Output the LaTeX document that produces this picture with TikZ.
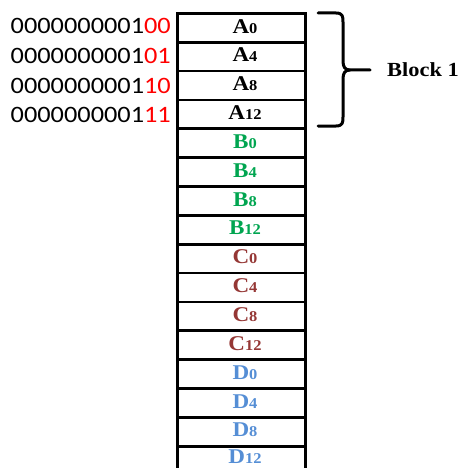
\documentclass[tikz,border=0pt]{standalone}
\usepackage{fontspec}
\setmainfont{Liberation Serif}
\newfontfamily\binfont{Carlito}
\definecolor{cA}{HTML}{000000}
\definecolor{cB}{HTML}{00A550}
\definecolor{cC}{HTML}{953735}
\definecolor{cD}{HTML}{558ED5}
\definecolor{bitred}{HTML}{FF0000}
\newcommand{\cellname}[2]{{\fontsize{21}{21}\selectfont\bfseries #1}{\fontsize{15}{15}\selectfont\bfseries #2}}
\begin{document}
\begin{tikzpicture}[x=1pt,y=-1pt,
  cellbox/.style={draw=black,line width=2.8pt,minimum width=128pt,minimum height=28.85pt,inner sep=0pt,anchor=north west},
  celltext/.style={anchor=center,inner sep=0pt,xscale=1.1,transform shape},
  bintext/.style={anchor=east,inner sep=0pt,font=\binfont\fontsize{23.5}{23.5}\selectfont,xscale=1.12,transform shape},
  bracestyle/.style={line width=3pt,line cap=round,line join=round}]
\useasboundingbox (0,0) rectangle (465,468);
% cells
\foreach \i/\l/\d/\c/\dy in {0/A/0/cA/14.2,1/A/4/cA/14.2,2/A/8/cA/14.2,3/A/12/cA/14.2,4/B/0/cB/14.2,5/B/4/cB/14.2,6/B/8/cB/14.2,7/B/12/cB/14.2,8/C/0/cC/14.2,9/C/4/cC/14.2,10/C/8/cC/14.2,11/C/12/cC/14.2,12/D/0/cD/14.2,13/D/4/cD/14.2,14/D/8/cD/14.2,15/D/12/cD/12.2}{
  \node[cellbox] (cell\i) at (176,{12+28.85*\i}) {};
  \node[celltext,text=\c] (lab\i) at ({245},{12+28.85*\i+\dy}) {\cellname{\l}{\d}};
}
% binary addresses
\node[bintext] (bin0) at (171,26) {000000000\textcolor{black}{1}\textcolor{bitred}{00}};
\node[bintext] (bin1) at (171,56) {000000000\textcolor{black}{1}\textcolor{bitred}{01}};
\node[bintext] (bin2) at (171,86) {000000000\textcolor{black}{1}\textcolor{bitred}{10}};
\node[bintext] (bin3) at (171,115) {000000000\textcolor{black}{1}\textcolor{bitred}{11}};
% brace
\coordinate (btop) at (318,13);
\coordinate (bbot) at (318,126);
\coordinate (btip) at (370,70);
\draw[bracestyle] (btop) -- (336,13) .. controls (343,13) and (343,17) .. (343,22) -- (343,61)
  .. controls (343,67) and (345,70) .. (350,70) -- (btip);
\draw[bracestyle] (350,70) .. controls (345,70) and (343,73) .. (343,79) -- (343,117)
  .. controls (343,122) and (343,126) .. (336,126) -- (bbot);
\node[anchor=west,inner sep=0pt,font=\fontsize{20}{20}\selectfont\bfseries,xscale=1.12,transform shape] (blk) at (387,70) {Block 1};
\end{tikzpicture}
\end{document}
